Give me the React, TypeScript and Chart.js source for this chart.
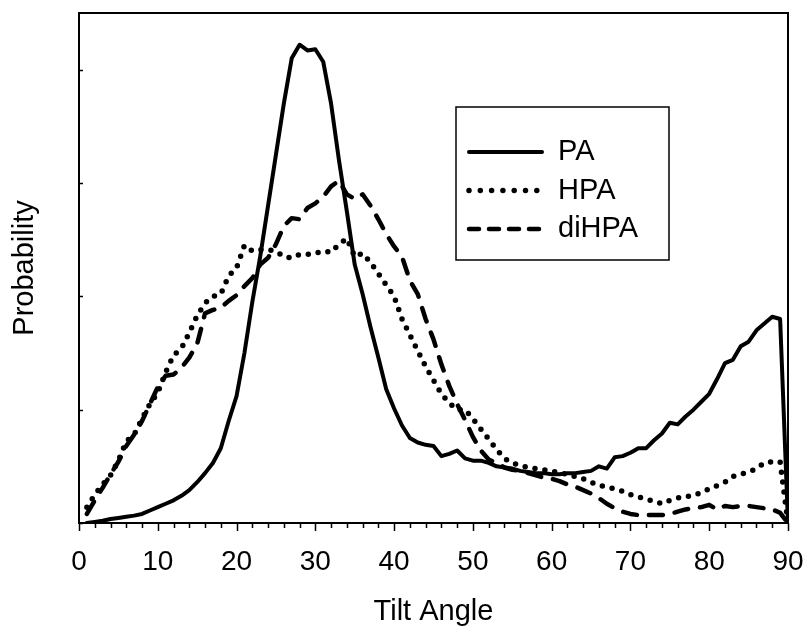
import React, { useEffect, useRef } from "react";
import { Chart, registerables } from "chart.js";

Chart.register(...registerables);

const angles = [
  1, 2, 3, 4, 5, 6, 7, 8, 9, 10,
  11, 12, 13, 14, 15, 16, 17, 18, 19, 20,
  21, 22, 23, 24, 25, 26, 27, 28, 29, 30,
  31, 32, 33, 34, 35, 36, 37, 38, 39, 40,
  41, 42, 43, 44, 45, 46, 47, 48, 49, 50,
  51, 52, 53, 54, 55, 56, 57, 58, 59, 60,
  61, 62, 63, 64, 65, 66, 67, 68, 69, 70,
  71, 72, 73, 74, 75, 76, 77, 78, 79, 80,
  81, 82, 83, 84, 85, 86, 87, 88, 89, 90,
];

const paValues = [
  0.0, 0.01, 0.02, 0.035, 0.045, 0.055, 0.065, 0.08, 0.11, 0.14,
  0.17, 0.2, 0.24, 0.29, 0.36, 0.44, 0.53, 0.66, 0.9, 1.12,
  1.5, 1.95, 2.35, 2.8, 3.25, 3.7, 4.1, 4.22, 4.17, 4.18,
  4.07, 3.7, 3.2, 2.75, 2.28, 2.02, 1.73, 1.46, 1.18, 1.01,
  0.86, 0.75, 0.71, 0.69, 0.68, 0.59, 0.61, 0.64, 0.57, 0.55,
  0.55, 0.53, 0.5, 0.49, 0.48, 0.46, 0.45, 0.44, 0.44, 0.43,
  0.43, 0.44, 0.44, 0.45, 0.46, 0.5, 0.48, 0.58, 0.59, 0.62,
  0.66, 0.66, 0.73, 0.79, 0.885, 0.87, 0.94, 1.0, 1.07, 1.14,
  1.27, 1.41, 1.44, 1.56, 1.6, 1.7, 1.76, 1.82, 1.8, 0.0,
];

const hpaValues = [
  0.14, 0.25, 0.34, 0.42, 0.55, 0.72, 0.78, 0.92, 1.05, 1.15,
  1.33, 1.48, 1.54, 1.68, 1.83, 1.94, 2.0, 2.02, 2.18, 2.25,
  2.45, 2.4, 2.41, 2.41, 2.4, 2.35, 2.34, 2.37, 2.37, 2.38,
  2.4, 2.39, 2.46, 2.51, 2.35, 2.38, 2.3, 2.2, 2.1, 2.0,
  1.8, 1.66, 1.52, 1.38, 1.26, 1.14, 1.06, 1.0, 1.0, 0.92,
  0.83, 0.74, 0.65, 0.57, 0.53, 0.51, 0.49, 0.48, 0.47, 0.46,
  0.44, 0.43, 0.41, 0.39, 0.36, 0.33, 0.32, 0.3, 0.28, 0.25,
  0.23, 0.21, 0.19, 0.17, 0.2, 0.22, 0.235, 0.24, 0.27, 0.3,
  0.33, 0.36, 0.41, 0.43, 0.45, 0.48, 0.53, 0.54, 0.54, 0.0,
];

const dihpaValues = [
  0.08, 0.2, 0.31, 0.43, 0.54, 0.68, 0.78, 0.9, 1.05, 1.2,
  1.3, 1.31, 1.37, 1.46, 1.58, 1.85, 1.88, 1.9, 1.96, 2.01,
  2.09, 2.16, 2.28, 2.34, 2.46, 2.62, 2.69, 2.68, 2.78, 2.82,
  2.88, 2.97, 3.02, 2.9, 2.86, 2.9, 2.8, 2.68, 2.55, 2.44,
  2.35, 2.14, 2.02, 1.8, 1.62, 1.4, 1.21, 1.05, 0.91, 0.76,
  0.64, 0.56, 0.53, 0.49, 0.47, 0.46, 0.44, 0.42, 0.4, 0.39,
  0.37, 0.34, 0.32, 0.29, 0.26, 0.22, 0.17, 0.13, 0.1, 0.08,
  0.07, 0.07, 0.07, 0.07, 0.08, 0.1, 0.12, 0.13, 0.14, 0.16,
  0.12, 0.15, 0.14, 0.15, 0.15, 0.14, 0.13, 0.12, 0.09, 0.0,
];

const seriesLabels = ["PA", "HPA", "diHPA"];
const xTickValues = [0, 10, 20, 30, 40, 50, 60, 70, 80, 90];
const xMinorTickValues = [
  0, 2, 4, 6, 8, 10, 12, 14, 16, 18, 20, 22, 24, 26, 28, 30, 32, 34, 36, 38, 40, 42, 44,
  46, 48, 50, 52, 54, 56, 58, 60, 62, 64, 66, 68, 70, 72, 74, 76, 78, 80, 82, 84, 86, 88, 90,
];
const yTickValues = [0, 1, 2, 3, 4];
const xTitle = "Tilt Angle";
const yTitle = "Probability";

const FONT = "'Liberation Sans', Arial, Helvetica, sans-serif";

const seriesStyles = [
  { width: 4, dash: [] as number[], cap: "round", legendDash: [] as number[] },
  { width: 5.5, dash: [0, 10], cap: "round", legendDash: [0, 11.3] },
  { width: 4.5, dash: [14, 12], cap: "round", legendDash: [10, 10] },
];

const framePlugin = {
  id: "frameAndTicks",
  beforeDatasetsDraw(chart: any) {
    const { ctx, chartArea } = chart;
    const { left, top, right, bottom } = chartArea;
    const xs = chart.scales.x;
    const ys = chart.scales.y;
    ctx.save();
    ctx.strokeStyle = "#000";
    ctx.lineWidth = 2;
    ctx.strokeRect(left, top, right - left, bottom - top);
    ctx.lineWidth = 1.5;
    ctx.beginPath();
    for (const v of xMinorTickValues) {
      const px = Math.round(xs.getPixelForValue(v)) + 0.5;
      const len = xTickValues.includes(v) ? 8 : 5;
      ctx.moveTo(px, bottom);
      ctx.lineTo(px, bottom + len);
    }
    for (const v of yTickValues) {
      const py = Math.round(ys.getPixelForValue(v)) + 0.5;
      ctx.moveTo(left, py);
      ctx.lineTo(left + 4, py);
    }
    ctx.stroke();
    ctx.restore();
  },
};

const legendPlugin = {
  id: "insideLegend",
  afterDraw(chart: any) {
    const { ctx } = chart;
    const boxL = 456;
    const boxT = 107;
    const boxR = 669;
    const boxB = 260;
    const rows = [152, 190.5, 229];
    ctx.save();
    ctx.fillStyle = "#fff";
    ctx.fillRect(boxL, boxT, boxR - boxL, boxB - boxT);
    ctx.strokeStyle = "#000";
    ctx.lineWidth = 1.5;
    ctx.strokeRect(boxL, boxT, boxR - boxL, boxB - boxT);
    chart.data.datasets.forEach((ds: any, i: number) => {
      const st = seriesStyles[i];
      const y = rows[i];
      ctx.beginPath();
      ctx.setLineDash(st.legendDash);
      ctx.lineCap = st.cap;
      ctx.lineWidth = st.width;
      ctx.strokeStyle = "#000";
      ctx.moveTo(469, y);
      ctx.lineTo(i === 1 ? 538 : 542, y);
      ctx.stroke();
      ctx.setLineDash([]);
      ctx.fillStyle = "#000";
      ctx.font = `29px ${FONT}`;
      ctx.textBaseline = "middle";
      ctx.textAlign = "left";
      ctx.fillText(ds.label, 558, y);
    });
    ctx.restore();
  },
};

export default function App() {
  const canvasRef = useRef<HTMLCanvasElement | null>(null);

  useEffect(() => {
    const canvas = canvasRef.current;
    if (!canvas) return;
    const seriesData = [paValues, hpaValues, dihpaValues];
    const chart = new Chart(canvas, {
      type: "line",
      data: {
        datasets: seriesData.map((vals, i) => ({
          label: seriesLabels[i],
          data: angles.map((a, k) => ({ x: a, y: vals[k] })),
          borderColor: "#000",
          backgroundColor: "#000",
          borderWidth: seriesStyles[i].width,
          borderDash: seriesStyles[i].dash,
          borderCapStyle: seriesStyles[i].cap as any,
          borderJoinStyle: "round",
          pointRadius: 0,
          tension: 0,
          fill: false,
        })),
      },
      options: {
        responsive: false,
        animation: false,
        devicePixelRatio: 1,
        layout: { padding: { top: 13, right: 20, left: 0, bottom: 0 } },
        plugins: {
          legend: { display: false },
          tooltip: { enabled: false },
        },
        scales: {
          x: {
            type: "linear",
            min: 0,
            max: 90,
            afterFit: (scale: any) => {
              scale.height = 111;
            },
            afterBuildTicks: (scale: any) => {
              scale.ticks = xTickValues.map((v) => ({ value: v }));
            },
            grid: { display: false, drawTicks: true, tickLength: 22 },
            border: { display: false },
            ticks: {
              autoSkip: false,
              maxRotation: 0,
              padding: 0,
              color: "#000",
              font: { family: FONT, size: 28 },
            },
            title: {
              display: true,
              text: xTitle,
              color: "#000",
              font: { family: FONT, size: 29 },
              padding: { top: 0, bottom: 5 },
            },
          },
          y: {
            type: "linear",
            min: 0,
            max: 4.5,
            afterFit: (scale: any) => {
              scale.width = 79;
            },
            afterBuildTicks: (scale: any) => {
              scale.ticks = yTickValues.map((v) => ({ value: v }));
            },
            grid: { display: false, drawTicks: false, tickLength: 0 },
            border: { display: false },
            ticks: { display: false, padding: 0 },
            title: {
              display: true,
              text: yTitle,
              color: "#000",
              font: { family: FONT, size: 29 },
              padding: { top: 8, bottom: 0 },
            },
          },
        },
      },
      plugins: [framePlugin, legendPlugin],
    });
    return () => chart.destroy();
  }, []);

  return (
    <div style={{ position: "absolute", left: 0, top: 0, width: 808, height: 634, background: "#fff" }}>
      <canvas ref={canvasRef} width={808} height={634} style={{ display: "block" }} />
    </div>
  );
}
